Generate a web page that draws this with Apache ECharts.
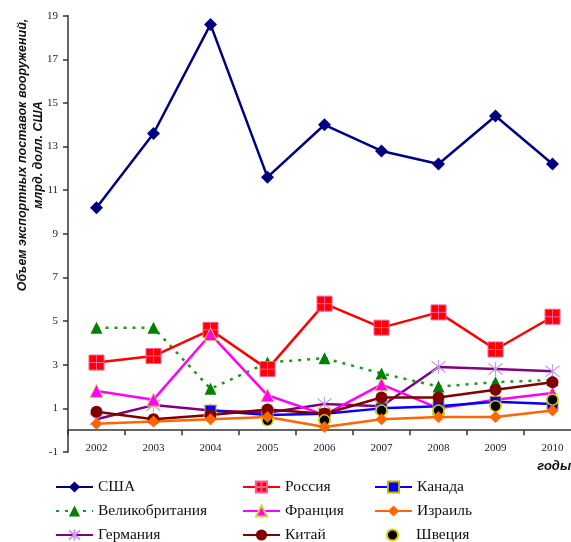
<!DOCTYPE html>
<html><head><meta charset="utf-8">
<script src="https://cdn.jsdelivr.net/npm/echarts@6/dist/echarts.min.js"></script>
<style>html,body{margin:0;padding:0;background:#fff;overflow:hidden;width:571px;height:542px}#c{width:581px;height:542px}</style>
</head><body><div id="c"></div>
<script>
const years = ['2002','2003','2004','2005','2006','2007','2008','2009','2010'];
const yTicks = [-1,1,3,5,7,9,11,13,15,17,19];
const usa     = [10.2,13.6,18.6,11.6,14.0,12.8,12.2,14.4,12.2];
const russia  = [3.1,3.4,4.6,2.8,5.8,4.7,5.4,3.7,5.2];
const canada  = [null,null,0.9,0.7,0.75,1.0,1.1,1.3,1.2];
const uk      = [4.7,4.7,1.9,3.1,3.3,2.6,2.0,2.2,2.3];
const france  = [1.8,1.4,4.4,1.6,0.7,2.1,1.0,1.4,1.7];
const israel  = [0.3,0.4,0.5,0.6,0.15,0.5,0.6,0.6,0.9];
const germany = [0.5,1.15,0.9,0.8,1.2,1.1,2.9,2.8,2.7];
const china   = [0.85,0.5,0.7,0.95,0.75,1.5,1.5,1.85,2.2];
const sweden  = [null,null,null,0.45,0.45,0.9,0.9,1.1,1.4];
const legendCols = [
  ['США', 'Великобритания', 'Германия'],
  ['Россия', 'Франция', 'Китай'],
  ['Канада', 'Израиль', 'Швеция']
];

const serif = '"Liberation Serif","Times New Roman",serif';
const sans = '"Liberation Sans",Arial,sans-serif';
const asterisk = 'path://M1,1L9,9M9,1L1,9M5,0L5,10';
const crossSquare = 'path://M0,0H10V10H0ZM5,0V10M0,5H10';

function ln(name, data, color, symbol, size, extra) {
  return Object.assign({
    name, type: 'line', data, symbol, symbolSize: size,
    connectNulls: false,
    lineStyle: { color, width: 2.5 },
    itemStyle: { color },
    emphasis: { disabled: true },
    animation: false
  }, extra || {});
}

const series = [
  ln('США', usa, '#000080', 'diamond', 13),
  ln('Великобритания', uk, '#008000', 'triangle', 12, { lineStyle: { color: '#1a9a1a', width: 2.5, type: [3, 6] }, itemStyle: { color: '#008000' } }),
  ln('Германия', germany, '#800080', asterisk, 14, { itemStyle: { color: '#c69ce6', borderColor: '#c69ce6', borderWidth: 1.2 } }),
  ln('Россия', russia, '#FF0000', crossSquare, 15, { itemStyle: { color: '#FF0000', borderColor: '#ff5a9a', borderWidth: 1 } }),
  ln('Франция', france, '#FF00FF', 'triangle', 13, { itemStyle: { color: '#FF00FF', borderColor: '#e0d040', borderWidth: 1 } }),
  ln('Канада', canada, '#0000FF', 'rect', 11, { itemStyle: { color: '#0000FF', borderColor: '#c8b400', borderWidth: 1 } }),
  ln('Китай', china, '#800000', 'circle', 12),
  ln('Швеция', sweden, '#000000', 'circle', 11, { lineStyle: { width: 0, opacity: 0 }, itemStyle: { color: '#000000', borderColor: '#d8d000', borderWidth: 1.5 } }),
  ln('Израиль', israel, '#FF6600', 'diamond', 12)
];

const colLeft = [55, 242, 374];
const rowCenter = [486, 510, 534];
const legends = [];
legendCols.forEach((col, ci) => col.forEach((name, ri) => {
  legends.push({
    orient: 'horizontal', left: colLeft[ci], top: rowCenter[ri] - 7, padding: 0,
    itemWidth: 37, itemHeight: 14, selectedMode: false,
    textStyle: { fontFamily: serif, fontSize: 15.5, color: '#111' },
    data: [name]
  });
}));

const chart = echarts.init(document.getElementById('c'), null, { renderer: 'canvas' });
chart.setOption({
  backgroundColor: '#fff',
  animation: false,
  grid: { left: 68, right: 0, top: 15.7, bottom: 90 },
  legend: legends,
  xAxis: {
    type: 'category', data: years, boundaryGap: true,
    axisLine: { onZero: true, lineStyle: { color: '#333', width: 1.5 } },
    axisTick: { show: true, alignWithLabel: false, length: 5, lineStyle: { color: '#333', width: 1.5 } },
    axisLabel: { fontFamily: serif, fontSize: 11, color: '#222', margin: -9 },
    splitLine: { show: false }
  },
  yAxis: {
    type: 'value', min: -1, max: 19, interval: 2,
    axisLine: { show: true, onZero: false, lineStyle: { color: '#333', width: 1.5 } },
    axisTick: { show: true, length: 5, inside: false, customValues: yTicks, lineStyle: { color: '#333', width: 1.5 } },
    axisLabel: { fontFamily: serif, fontSize: 11, color: '#222', margin: 10, customValues: yTicks },
    splitLine: { show: false }
  },
  graphic: [
    { type: 'text', x: 31, y: 155, rotation: Math.PI / 2,
      style: { text: 'Объем экспортных поставок вооружений,\nмлрд. долл. США', font: 'italic bold 12.5px ' + sans,
        fill: '#111', align: 'center', verticalAlign: 'middle', lineHeight: 16 } },
    { type: 'text', x: 571, y: 466,
      style: { text: 'годы', font: 'italic bold 13px ' + sans, fill: '#111', align: 'right', verticalAlign: 'middle' } }
  ],
  series
});
</script></body></html>
